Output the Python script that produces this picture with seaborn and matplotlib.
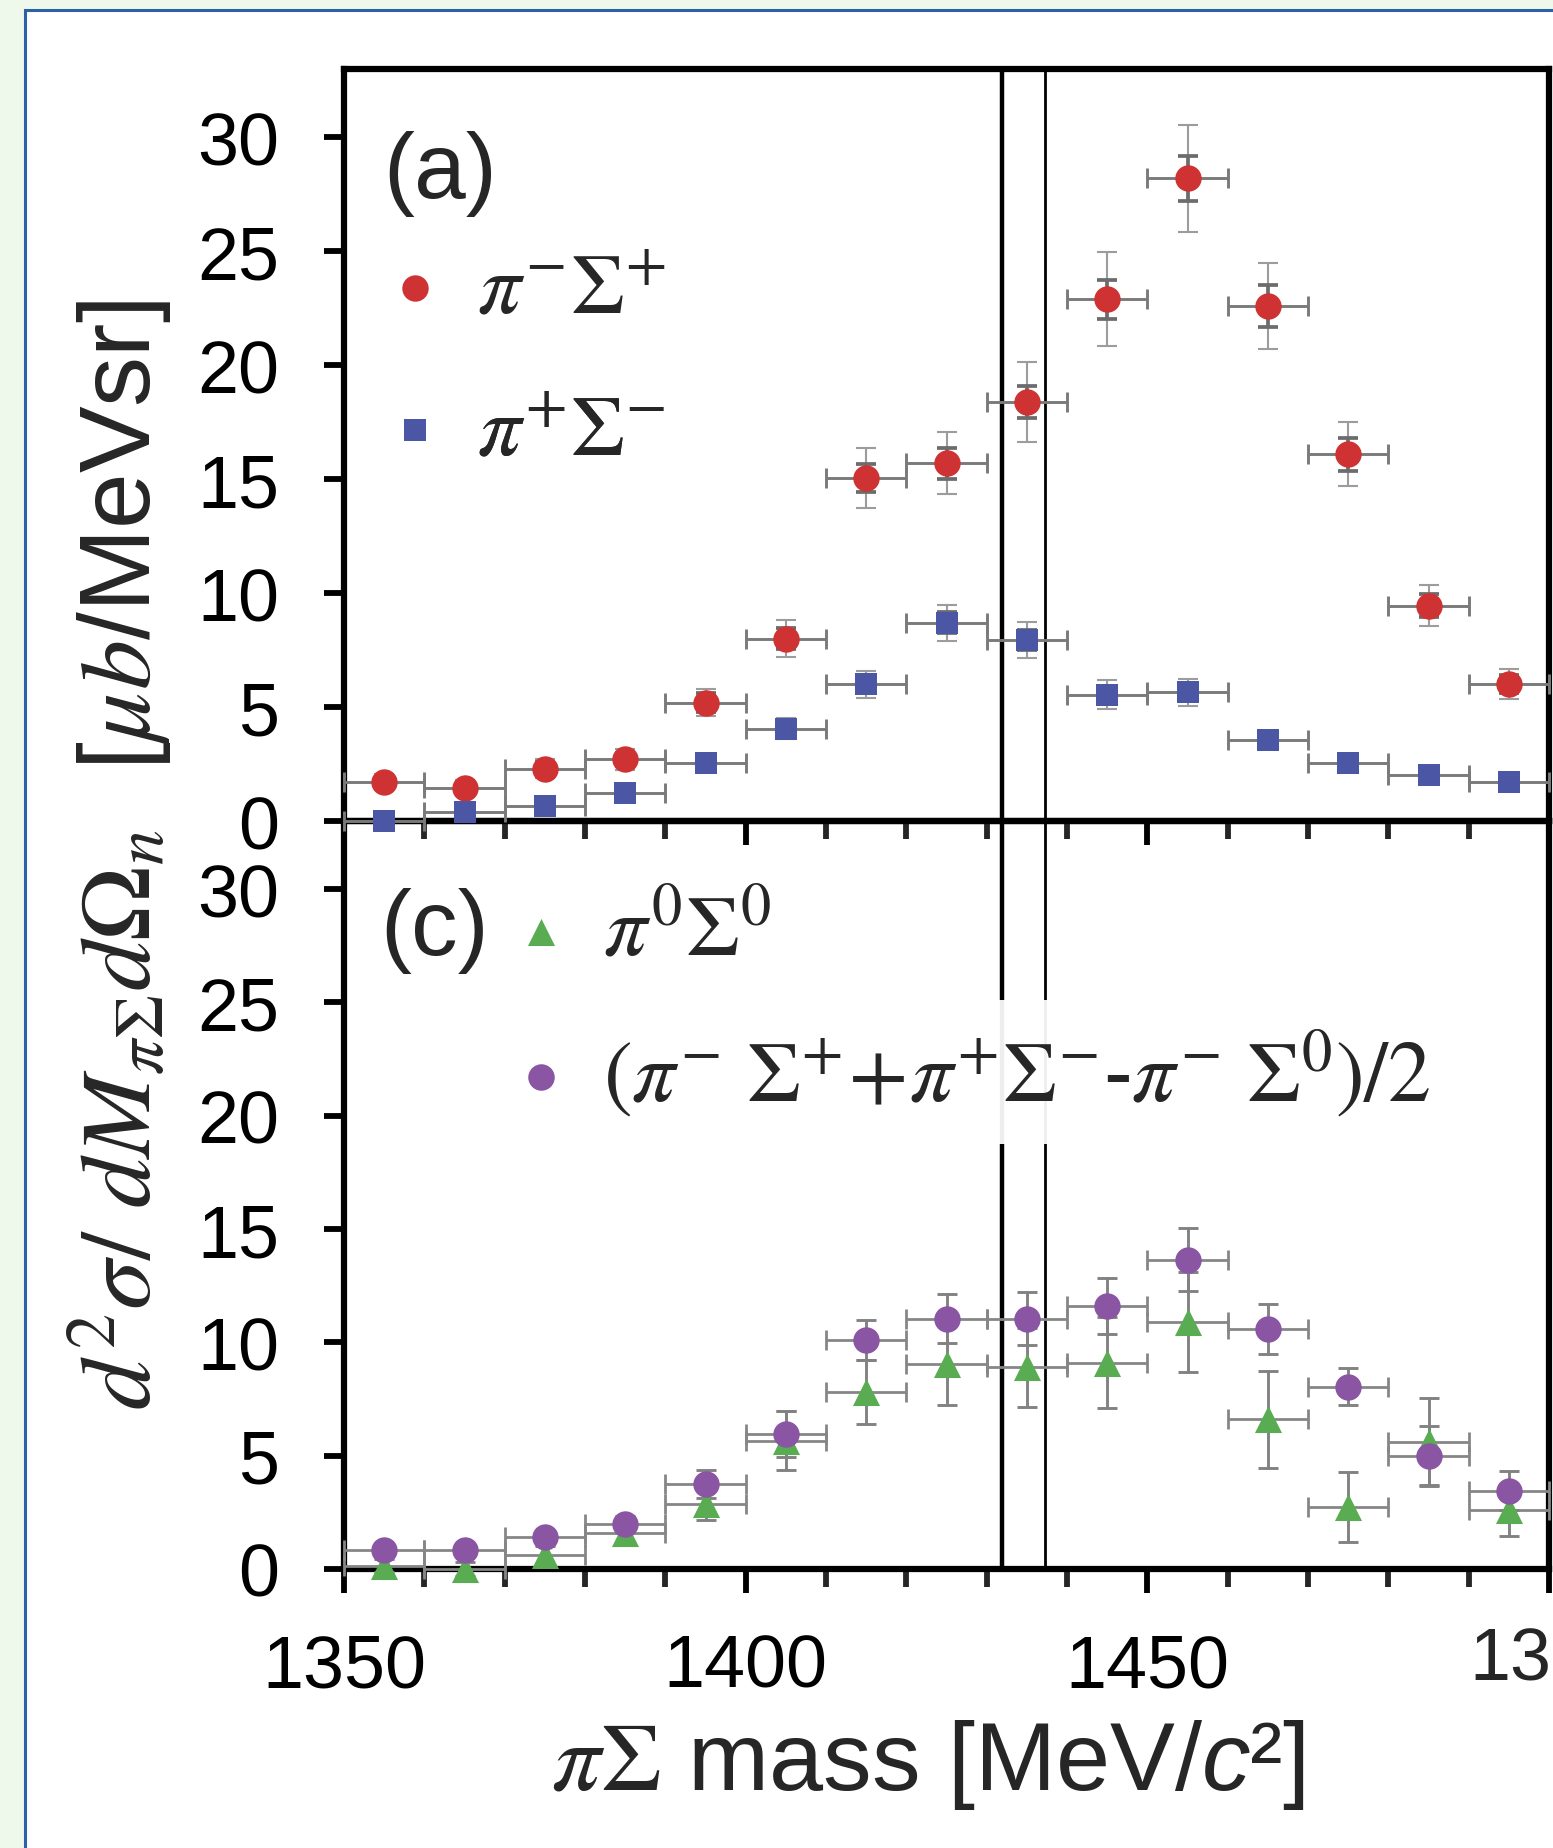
import numpy as np
import matplotlib
matplotlib.use("Agg")
import matplotlib.pyplot as plt
import seaborn as sns
from matplotlib.patches import Rectangle

# ---------------- data ----------------
mass = [1355, 1365, 1375, 1385, 1395, 1405, 1415, 1425, 1435,
        1445, 1455, 1465, 1475, 1485, 1495]
bin_half_width = 5

# panel (a): pi- Sigma+
pim_sigp = [1.7, 1.45, 2.3, 2.7, 5.2, 8.0, 15.05, 15.7, 18.4,
            22.9, 28.2, 22.6, 16.1, 9.45, 6.0]
pim_sigp_stat = [0.25, 0.25, 0.3, 0.3, 0.4, 0.45, 0.62, 0.69, 0.7,
                 0.86, 1.0, 0.9, 0.72, 0.5, 0.4]
pim_sigp_tot = [0.35, 0.35, 0.4, 0.45, 0.6, 0.8, 1.3, 1.36, 1.75,
                2.05, 2.35, 1.9, 1.4, 0.9, 0.65]

# panel (a): pi+ Sigma-
pip_sigm = [0.0, 0.4, 0.65, 1.25, 2.55, 4.05, 6.0, 8.7, 7.95,
            5.55, 5.65, 3.55, 2.55, 2.0, 1.7]
pip_sigm_stat = [0.1, 0.15, 0.15, 0.2, 0.25, 0.3, 0.35, 0.45, 0.45,
                 0.35, 0.3, 0.25, 0.2, 0.15, 0.15]
pip_sigm_tot = [0.15, 0.2, 0.25, 0.3, 0.35, 0.45, 0.6, 0.8, 0.8,
                0.65, 0.6, 0.35, 0.3, 0.25, 0.2]

# panel (c): pi0 Sigma0
pi0_sig0 = [0.15, 0.0, 0.6, 1.6, 2.85, 5.65, 7.8, 9.05, 8.9,
            9.1, 10.9, 6.6, 2.75, 5.6, 2.6]
pi0_sig0_err = [0.3, 0.3, 0.4, 0.5, 0.7, 1.3, 1.4, 1.8, 1.75,
                2.0, 2.2, 2.15, 1.55, 1.95, 1.15]

# panel (c): (pi-Sigma+ + pi+Sigma- - pi-Sigma0)/2
half_sum = [0.85, 0.85, 1.4, 2.0, 3.75, 5.95, 10.1, 11.05, 11.05,
            11.6, 13.65, 10.6, 8.05, 5.0, 3.45]
half_sum_err = [0.2, 0.2, 0.3, 0.35, 0.6, 1.0, 0.9, 1.1, 1.15,
                1.25, 1.4, 1.1, 0.8, 1.3, 0.86]

thresholds = [1431.95, 1437.2]          # K-p and K0bar n thresholds
y_ticks = [0, 5, 10, 15, 20, 25, 30]
x_major = [1350, 1400, 1450, 1500]
x_major_labels = ["1350", "1400", "1450", ""]
x_minor = list(range(1350, 1501, 10))

label_a = [r"$\pi^{-}\Sigma^{+}$", r"$\pi^{+}\Sigma^{-}$"]
label_c = [r"$\pi^{0}\Sigma^{0}$",
           r"$(\pi^{-}\ \Sigma^{+}\!+\!\pi^{+}\Sigma^{-}$-$\pi^{-}\ \Sigma^{0})/2$"]

# ---------------- style ----------------
sns.set_theme(style="ticks")
plt.rcParams["font.family"] = ["Liberation Sans", "DejaVu Sans"]
plt.rcParams["mathtext.fontset"] = "custom"
plt.rcParams["mathtext.rm"] = "STIXGeneral"
plt.rcParams["mathtext.it"] = "STIXGeneral:italic"
plt.rcParams["mathtext.bf"] = "STIXGeneral:bold"
plt.rcParams["mathtext.sf"] = "Liberation Sans:italic"

W, H = 1553, 1849
fig = plt.figure(figsize=(W / 100, H / 100), dpi=100, facecolor="#eef9ec")
fig.add_artist(Rectangle((25 / W, -0.05), 1.2, 1.05 - 11 / H,
                         transform=fig.transFigure, facecolor="white",
                         edgecolor="#2b62a6", linewidth=2.2, zorder=-10))

L = 344 / W
AW = (1549 - 344) / W
ax_top = fig.add_axes([L, (H - 822) / H, AW, 752 / H])
ax_bot = fig.add_axes([L, (H - 1570) / H, AW, 748 / H])
ax_top.set_zorder(3)
for ax in (ax_top, ax_bot):
    ax.patch.set_visible(False)

RED, BLUE, GREEN, PURPLE = "#cf3232", "#4b56a4", "#5aac52", "#8a55a3"
CAP = 7.0


def errs_two_level(ax, y, stat, tot):
    ax.errorbar(mass, y, xerr=bin_half_width, fmt="none", ecolor="#7a7a7a",
                elinewidth=2.1, capsize=CAP, capthick=2.1, zorder=3, clip_on=False)
    ax.errorbar(mass, y, yerr=tot, fmt="none", ecolor="#9c9c9c",
                elinewidth=1.5, capsize=CAP, capthick=1.5, zorder=3, clip_on=False)
    ax.errorbar(mass, y, yerr=stat, fmt="none", ecolor="#6c6c6c",
                elinewidth=2.7, capsize=CAP, capthick=2.7, zorder=3.2, clip_on=False)


def errs_one_level(ax, y, err):
    ax.errorbar(mass, y, xerr=bin_half_width, fmt="none", ecolor="#868686",
                elinewidth=2.0, capsize=CAP, capthick=2.0, zorder=3, clip_on=False)
    ax.errorbar(mass, y, yerr=err, fmt="none", ecolor="#828282",
                elinewidth=2.1, capsize=CAP, capthick=2.1, zorder=3, clip_on=False)


def points(ax, y, color, marker, size):
    sns.scatterplot(x=mass, y=y, ax=ax, color=color, marker=marker, s=size ** 2,
                    linewidth=0, zorder=6, legend=False, clip_on=False)
    return ax.collections[-1]


# ---- panel (a)
errs_two_level(ax_top, pim_sigp, pim_sigp_stat, pim_sigp_tot)
errs_two_level(ax_top, pip_sigm, pip_sigm_stat, pip_sigm_tot)
h_red = points(ax_top, pim_sigp, RED, "o", 19)
h_blue = points(ax_top, pip_sigm, BLUE, "s", 15.5)

# ---- panel (c)
errs_one_level(ax_bot, pi0_sig0, pi0_sig0_err)
errs_one_level(ax_bot, half_sum, half_sum_err)
h_green = points(ax_bot, pi0_sig0, GREEN, "^", 19.5)
h_purple = points(ax_bot, half_sum, PURPLE, "o", 19)

for ax in (ax_top, ax_bot):
    ax.axvline(thresholds[0], color="black", lw=3.2, zorder=2)
    ax.axvline(thresholds[1], color="black", lw=2.0, zorder=2)
    ax.set_xlim(1350, 1500)
    ax.set_ylim(0, 33)
    ax.set_yticks(y_ticks)
    ax.set_xticks(x_major)
    ax.set_xticks(x_minor, minor=True)
    ax.tick_params(axis="y", which="major", direction="out", length=14.5, width=4.2,
                   labelsize=53, pad=32, colors="black", left=True, right=False)
    ax.tick_params(axis="x", which="major", direction="out", length=17, width=4.2,
                   labelsize=53, pad=29, colors="black", bottom=True, top=False)
    ax.tick_params(axis="x", which="minor", direction="out", length=13, width=4.2,
                   bottom=True, top=False)
    for sp in ax.spines.values():
        sp.set_visible(True)
        sp.set_linewidth(4.5)
        sp.set_color("black")
        sp.set_zorder(2.5)
    ax.grid(False)

ax_top.tick_params(axis="x", which="both", labelbottom=False)
ax_bot.set_xticklabels(x_major_labels)

# panel tags
ax_top.text((383 - 344) / 1205, (822 - 174) / 752, "(a)", transform=ax_top.transAxes,
            ha="left", va="center", fontsize=67)
ax_bot.text((380 - 344) / 1205, (1570 - 931) / 748, "(c)", transform=ax_bot.transAxes,
            ha="left", va="center", fontsize=67)

# legends
LFS = 62
em = LFS * 100 / 72
hl = 0.45


def entry(ax, handle, text, mx, my, axh, ytop, frame=False, pad=0.0):
    x = (mx - hl * em / 2 - pad * em - 344) / 1205
    y = (ytop - my) / axh
    leg = ax.legend(handles=[handle], labels=[text], loc="center left",
                    bbox_to_anchor=(x, y), bbox_transform=ax.transAxes,
                    frameon=frame, fontsize=LFS, handlelength=hl,
                    handletextpad=0.5, borderpad=pad, borderaxespad=0,
                    scatterpoints=1, fancybox=False)
    if frame:
        leg.get_frame().set_facecolor("white")
        leg.get_frame().set_alpha(0.75)
        leg.get_frame().set_linewidth(0)
    ax.add_artist(leg)
    return leg


entry(ax_top, h_red, label_a[0], 415, 290, 752, 822)
entry(ax_top, h_blue, label_a[1], 415, 432, 752, 822)
entry(ax_bot, h_green, label_c[0], 541, 934, 748, 1570)
entry(ax_bot, h_purple, label_c[1], 541, 1073, 748, 1570, frame=True, pad=0.3)

# axis labels
ax_bot.set_xlabel(r"$\pi\Sigma$ mass [MeV/$\mathsf{c}$²]", fontsize=70)
ax_bot.xaxis.set_label_coords((928 - 344) / 1205, (1570 - 1718) / 748)
fig.supylabel(r"$d^{2}\sigma/\ dM_{\pi\Sigma}d\Omega_{n}$  [$\mu b$/MeVsr]",
              x=120 / W, y=1 - 855 / H, ha="center", va="center",
              rotation=90, rotation_mode="default", fontsize=72)

# tick label of the neighbouring panel, cut by the image edge
fig.text(1551 / W, 1 - 1660 / H, "1350", ha="center", va="center", fontsize=53)

fig.savefig("out.png", dpi=100, facecolor=fig.get_facecolor())
